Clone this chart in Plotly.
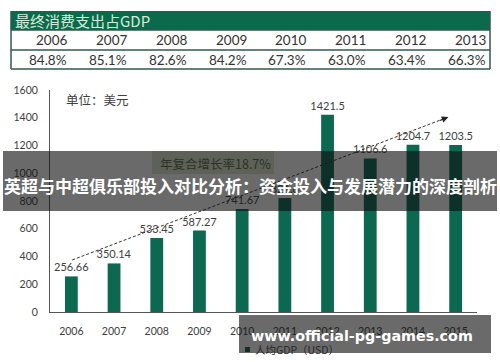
import plotly.graph_objects as go

# ---------------- data ----------------
table_title = "最终消费支出占GDP"
table_years = ["2006", "2007", "2008", "2009", "2010", "2011", "2012", "2013"]
table_values = ["84.8%", "85.1%", "82.6%", "84.2%", "67.3%", "63.0%", "63.4%", "66.3%"]

years = ["2006", "2007", "2008", "2009", "2010", "2011", "2012", "2013", "2014", "2015"]
gdp_per_capita = [256.66, 350.14, 533.45, 587.27, 741.67, 821.6, 1421.5, 1106.6, 1204.7, 1203.5]

unit_label = "单位：美元"
cagr_label = "年复合增长率18.7%"
series_name = "人均GDP（USD）"
banner_text = "英超与中超俱乐部投入对比分析：资金投入与发展潜力的深度剖析"
watermark_text = "www.official-pg-games.com"

# ---------------- layout helpers ----------------
W, H = 500, 362
ML, MR, MT, MB = 50, 23, 90, 50
PW, PH = W - ML - MR, H - MT - MB


def px(x):
    return (x - ML) / PW


def py(y):
    return (H - MB - y) / PH


LATIN = "Lato, 'Open Sans', sans-serif"
CJK = "'Noto Sans CJK SC', sans-serif"
BAR = "#0d6852"
DIM = "rgba(15,15,15,0.62)"

xs = list(range(len(years)))

fig = go.Figure()
fig.add_trace(go.Bar(
    x=xs, y=gdp_per_capita, width=0.3,
    marker=dict(color=BAR, line=dict(width=0)),
    text=[f"{v:g}" for v in gdp_per_capita],
    textposition="outside", cliponaxis=False, constraintext="none",
    textfont=dict(family=LATIN, size=11, color="#404040"),
    name=series_name, showlegend=False, hoverinfo="skip",
))

shapes = []
annotations = []

# ---- table ----
tx0, tx1 = 11, 490
ty0, ty1, ty2, ty3 = 11, 30, 50, 69
shapes.append(dict(type="rect", xref="paper", yref="paper",
                   x0=px(tx0), x1=px(tx1), y0=py(ty1), y1=py(ty0),
                   fillcolor="#0b6a4b", line=dict(width=0), layer="above"))
for yy in (ty1, ty2, ty3):
    shapes.append(dict(type="line", xref="paper", yref="paper",
                       x0=px(tx0), x1=px(tx1), y0=py(yy), y1=py(yy),
                       line=dict(color="#33584a", width=1.5), layer="above"))
for xx in (tx0, tx1):
    shapes.append(dict(type="line", xref="paper", yref="paper",
                       x0=px(xx), x1=px(xx), y0=py(ty0), y1=py(ty3),
                       line=dict(color="#33584a", width=1.5), layer="above"))
annotations.append(dict(text=table_title, xref="paper", yref="paper",
                        x=px(tx0 + 2), y=py((ty0 + ty1) / 2), xanchor="left", yanchor="middle",
                        showarrow=False, font=dict(family=CJK, size=15, color="#d4ecdc")))
colw = (tx1 - tx0) / len(table_years)
for i, (yr, val) in enumerate(zip(table_years, table_values)):
    xr = tx0 + colw * (i + 1) - 2
    annotations.append(dict(text=yr, xref="paper", yref="paper", x=px(xr), y=py((ty1 + ty2) / 2),
                            xanchor="right", yanchor="middle", showarrow=False,
                            font=dict(family=LATIN, size=13.5, color="#333333")))
    annotations.append(dict(text=val, xref="paper", yref="paper", x=px(xr), y=py((ty2 + ty3) / 2 + 0.5),
                            xanchor="right", yanchor="middle", showarrow=False,
                            font=dict(family=LATIN, size=13.5, color="#333333")))

# ---- unit label ----
annotations.append(dict(text=unit_label, xref="paper", yref="paper", x=px(64), y=py(99),
                        xanchor="left", yanchor="middle", showarrow=False,
                        font=dict(family=CJK, size=12.5, color="#404040")))

# ---- CAGR box (under banner) ----
shapes.append(dict(type="rect", xref="paper", yref="paper",
                   x0=px(152), x1=px(274), y0=py(174), y1=py(151),
                   fillcolor="#dce8cc", line=dict(width=0), layer="above"))
annotations.append(dict(text=cagr_label, xref="paper", yref="paper", x=px(158), y=py(163),
                        xanchor="left", yanchor="middle", showarrow=False,
                        font=dict(family=CJK, size=12.5, color="#2c3128")))

# ---- dashed trend arrow ----
shapes.append(dict(type="line", xref="x", yref="y", x0=0.02, y0=375, x1=8.7, y1=1390,
                   line=dict(color="#333333", width=1, dash="3px,2px"), layer="above"))
annotations.append(dict(text="", xref="x", yref="y", x=8.83, y=1405, ax=-10, ay=4,
                        showarrow=True, arrowhead=2, arrowsize=1.1, arrowwidth=1.2,
                        arrowcolor="#222222"))

# ---- banner ----
shapes.append(dict(type="rect", xref="paper", yref="paper",
                   x0=px(3), x1=px(497), y0=py(211), y1=py(151),
                   fillcolor=DIM, line=dict(width=0), layer="above"))
annotations.append(dict(text=banner_text, xref="paper", yref="paper", x=px(250), y=py(185),
                        xanchor="center", yanchor="middle", showarrow=False,
                        font=dict(family=CJK, size=17, color="#ffffff", weight="bold")))

# ---- legend (manual) + watermark ----
shapes.append(dict(type="rect", xref="paper", yref="paper",
                   x0=px(245), x1=px(250), y0=py(352), y1=py(347),
                   fillcolor=BAR, line=dict(width=0), layer="above"))
shapes.append(dict(type="rect", xref="paper", yref="paper",
                   x0=px(239), x1=px(491), y0=py(353), y1=py(315),
                   fillcolor=DIM, line=dict(width=0), layer="above"))
annotations.append(dict(text=series_name, xref="paper", yref="paper", x=px(253), y=py(349),
                        xanchor="left", yanchor="middle", showarrow=False,
                        font=dict(family=CJK, size=10.5, color="#262626")))
annotations.append(dict(text=watermark_text, xref="paper", yref="paper", x=px(249), y=py(336),
                        xanchor="left", yanchor="middle", showarrow=False,
                        font=dict(family="'DejaVu Sans', sans-serif", size=14.3, color="#ffffff",
                                  weight="bold")))

fig.update_layout(
    width=W, height=H,
    margin=dict(l=ML, r=MR, t=MT, b=MB, pad=0),
    paper_bgcolor="white", plot_bgcolor="white",
    shapes=shapes, annotations=annotations,
    showlegend=False, hovermode=False,
    xaxis=dict(range=[-0.5, 9.5], tickvals=xs, ticktext=years, showgrid=False, zeroline=False,
               showline=True, linecolor="#555555", linewidth=1, ticks="",
               ticklabelstandoff=9, tickfont=dict(family=LATIN, size=10.5, color="#404040")),
    yaxis=dict(range=[0, 1600], dtick=200, showgrid=False, zeroline=False,
               showline=True, linecolor="#555555", linewidth=1, ticks="",
               ticklabelstandoff=9, tickfont=dict(family=LATIN, size=10.5, color="#404040")),
)

fig.write_html("out.html", config={"displayModeBar": False},
               post_script="document.body.style.margin='0';document.body.style.overflow='hidden';")
